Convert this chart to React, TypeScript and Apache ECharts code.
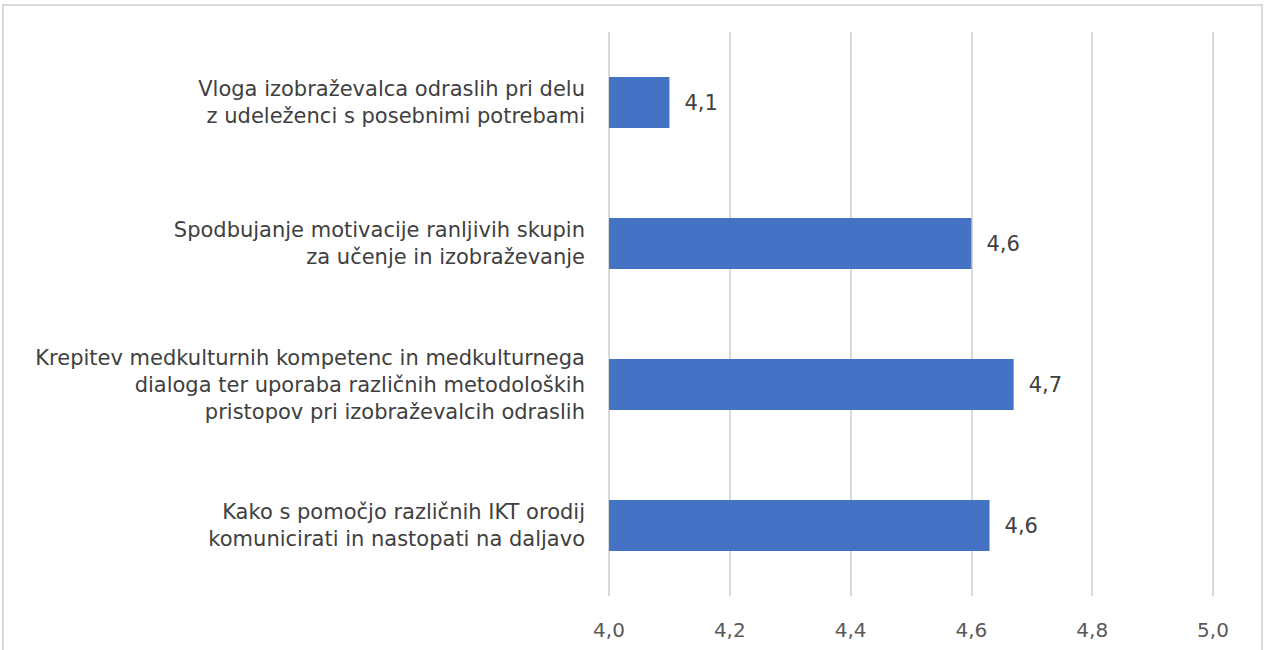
import React, { useEffect, useRef } from "react";
import * as echarts from "echarts";

const categories = [
  "Vloga izobraževalca odraslih pri delu\nz udeleženci s posebnimi potrebami",
  "Spodbujanje motivacije ranljivih skupin\nza učenje in izobraževanje",
  "Krepitev medkulturnih kompetenc in medkulturnega\ndialoga ter uporaba različnih metodoloških\npristopov pri izobraževalcih odraslih",
  "Kako s pomočjo različnih IKT orodij\nkomunicirati in nastopati na daljavo",
];
const values = [4.1, 4.6, 4.67, 4.63];
const xMin = 4.0;
const xMax = 5.0;
const xStep = 0.2;

const fmt = (v: number) => v.toFixed(1).replace(".", ",");

export default function App() {
  const ref = useRef<HTMLDivElement>(null);
  useEffect(() => {
    document.body.style.margin = "0";
    const chart = echarts.init(ref.current!, null, { renderer: "svg" });
    const font = "DejaVu Sans";
    chart.setOption({
      animation: false,
      backgroundColor: "#ffffff",
      textStyle: { fontFamily: font },
      graphic: [
        {
          type: "rect",
          shape: { x: 3, y: 5, width: 1259, height: 660 },
          style: { fill: "none", stroke: "#d9d9d9", lineWidth: 2 },
          silent: true,
        },
      ],
      grid: { left: 609, right: 53, top: 32, bottom: 54, containLabel: false },
      xAxis: {
        type: "value",
        min: xMin,
        max: xMax,
        interval: xStep,
        axisLine: { show: false },
        axisTick: { show: false },
        splitLine: { show: true, lineStyle: { color: "#d9d9d9", width: 2 } },
        axisLabel: {
          formatter: (v: number) => fmt(v),
          color: "#595959",
          fontSize: 20,
          fontFamily: font,
          margin: 24,
        },
      },
      yAxis: {
        type: "category",
        data: categories,
        inverse: true,
        axisLine: { show: false },
        axisTick: { show: false },
        axisLabel: {
          color: "#404040",
          fontSize: 21,
          fontFamily: font,
          lineHeight: 27,
          align: "right",
          margin: 24,
        },
      },
      series: [
        {
          type: "bar",
          data: values,
          barWidth: 51,
          itemStyle: { color: "#4472c4" },
          label: {
            show: true,
            position: "right",
            distance: 15,
            formatter: (p: any) => fmt(p.value),
            color: "#404040",
            fontSize: 21,
            fontFamily: font,
          },
        },
      ],
    });
    return () => chart.dispose();
  }, []);
  return (
    <div
      ref={ref}
      style={{ position: "absolute", left: 0, top: 0, width: 1266, height: 650 }}
    />
  );
}
